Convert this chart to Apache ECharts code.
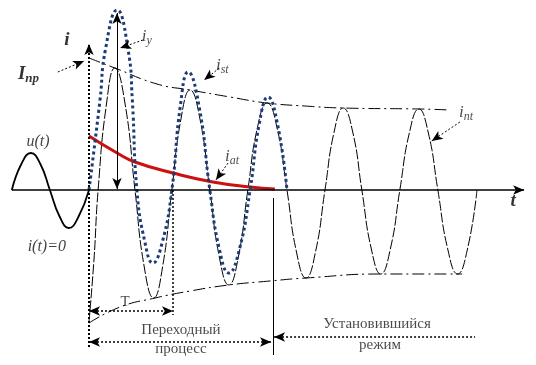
<!DOCTYPE html>
<html>
<head>
<meta charset="utf-8">
<script src="https://cdn.jsdelivr.net/npm/echarts@6/dist/echarts.min.js"></script>
<style>
html,body{margin:0;padding:0;background:#fff;}
#c{width:536px;height:365px;}
</style>
</head>
<body>
<div id="c"></div>
<script>
// time t in ms (50 Hz, T = 20 ms), current i in kA (schematic values)
const voltage = [[-20.3,0],[-17.8,2.6],[-15.3,3.7],[-12.8,2.6],[-10.3,0],[-7.8,-2.6],[-5.3,-3.8],[-2.8,-2.7],[0,0]];
const periodic = [
  [0,-13.2],[1.3,-7.0],[2.4,0],[4.6,8.6],[6.8,12.2],[9.5,8.6],[12.1,0],
  [14.5,-7.6],[17.0,-10.8],[19.4,-7.6],[21.8,0],
  [24.2,7.1],[26.6,10.0],[29.2,7.1],[31.8,0],
  [34.3,-6.7],[36.8,-9.5],[39.3,-6.7],[41.8,0],
  [44.3,6.2],[46.9,8.7],[49.5,6.2],[52.1,0],
  [54.6,-6.2],[57.1,-8.8],[59.6,-6.2],[62.1,0],
  [64.5,5.8],[66.9,8.2],[69.4,5.8],[71.8,0],
  [74.3,-5.9],[76.8,-8.4],[79.3,-5.9],[81.8,0],
  [84.3,5.7],[86.8,8.1],[89.3,5.7],[91.8,0],
  [94.4,-5.9],[97.0,-8.4],[99.6,-5.9],[102.1,0]
];
const total = [
  [0,0],[2.9,9.0],[4.3,14.0],[7.4,18.0],[10.3,14.0],[11.4,9.0],[12.6,0],
  [14.7,-5.2],[16.8,-7.3],[19.3,-5.2],[21.8,0],
  [24.0,8.3],[26.1,11.8],[29.0,8.3],[31.8,0],
  [34.3,-5.9],[36.8,-8.3],[39.6,-5.9],[42.4,0],
  [44.8,6.6],[47.1,9.3],[49.6,6.6],[52.1,0]
];
const aperiodic = [[0,5.4],[7.4,3.7],[12.1,2.8],[22.1,1.7],[32.6,0.8],[42.4,0.3],[48.9,0.1]];
const envUpper = [[0,13.2],[6.8,12.2],[17.9,10.6],[26.6,10.0],[37.1,9.3],[46.8,8.7],[56.8,8.4],[66.8,8.2],[86.8,8.1],[95.0,8.0]];
const envLower = [[0,-13.3],[8.2,-11.7],[17.4,-10.8],[26.6,-10.1],[36.8,-9.5],[47.6,-9.1],[57.1,-8.8],[76.8,-8.4],[98.2,-8.4]];

// annotation geometry (data coordinates): [from, to, startSymbol, endSymbol, style]
const arrows = [
  [[-20.3,0],[114.5,0],'none','arrow','axis'],
  [[0,-15.7],[0,14.6],'none','arrow','dotAxis'],
  [[7.37,17.7],[7.37,0.1],'arrow','arrow','thin'],
  [[14.2,15.0],[8.2,14.2],'none','arrow','leader'],
  [[-8.2,11.8],[-1.3,12.9],'none','arrow','leader'],
  [[34.3,12.2],[30.3,11.0],'none','arrow','leader'],
  [[36.6,2.7],[33.4,1.0],'none','arrow','leader'],
  [[97.6,6.8],[90.2,4.9],'none','arrow','leader'],
  [[0,-12.1],[22.1,-12.1],'arrow','arrow','dot'],
  [[22.1,0],[22.1,-12.5],'none','none','dot'],
  [[0,-15.2],[47.9,-15.2],'arrow','arrow','dot'],
  [[48.4,-0.8],[48.4,-16.5],'none','none','thin'],
  [[48.7,-14.7],[101.6,-14.7],'arrow','none','dot']
];
const labelTexts = [
  ['{b|i}', [-5.8,15.0], 'center'],
  ['{b|t}', [111.6,-1.1], 'center'],
  ['{B|I}{bs|пр}', [-18.7,11.6], 'left'],
  ['{i|i}{s|у}', [13.9,15.3], 'left'],
  ['{i|i}{s|st}', [33.4,12.4], 'left'],
  ['{i|i}{s|аt}', [35.8,3.3], 'left'],
  ['{i|i}{s|пt}', [97.4,7.7], 'left'],
  ['{m|u(t)}', [-13.4,4.8], 'center'],
  ['{m|i(t)=0}', [-11.1,-5.7], 'center'],
  ['{r|T}', [9.5,-11.2], 'center'],
  ['{r|Переходный}', [24.2,-14.0], 'center'],
  ['{r|процесс}', [24.2,-15.9], 'center'],
  ['{r|Установившийся}', [75.8,-13.4], 'center'],
  ['{r|режим}', [76.6,-15.5], 'center']
];

const serif = '"Liberation Serif", "DejaVu Serif", serif';
const styles = {
  axis: {color:'#000', width:1.5, type:'solid'},
  dotAxis: {color:'#000', width:2, type:[2,2]},
  thin: {color:'#000', width:1, type:'solid'},
  leader: {color:'#000', width:1, type:[2,2]},
  dot: {color:'#000', width:1.5, type:[2,2]}
};

const chart = echarts.init(document.getElementById('c'), null, {renderer:'canvas'});
const rich = {
  b: {fontFamily:serif, fontSize:19, fontStyle:'italic', fontWeight:'bold', color:'#000'},
  B: {fontFamily:serif, fontSize:19, fontStyle:'italic', fontWeight:'bold', color:'#000', lineHeight:22},
  bs: {fontFamily:serif, fontSize:13, fontStyle:'italic', fontWeight:'bold', color:'#000', lineHeight:8, verticalAlign:'bottom'},
  i: {fontFamily:serif, fontSize:17, fontStyle:'italic', color:'#222', lineHeight:20},
  s: {fontFamily:serif, fontSize:12, fontStyle:'italic', color:'#222', lineHeight:8, verticalAlign:'bottom'},
  m: {fontFamily:serif, fontSize:16, fontStyle:'italic', color:'#111'},
  r: {fontFamily:serif, fontSize:15, color:'#1a1a1a'}
};

const lineBase = {type:'line', smooth:true, showSymbol:false, symbol:'none', silent:true, animation:false, clip:false};
chart.setOption({
  animation:false,
  backgroundColor:'#fff',
  grid:{left:0,right:0,top:0,bottom:0},
  xAxis:{type:'value', min:-23.42, max:117.63, show:false},
  yAxis:{type:'value', min:-17.5, max:19.0, show:false},
  series:[
    Object.assign({}, lineBase, {name:'u(t)', data:voltage, lineStyle:{color:'#000', width:1.8}}),
    Object.assign({}, lineBase, {name:'envUpper', data:envUpper, lineStyle:{color:'#000', width:1, type:[12,4,2,4]}}),
    Object.assign({}, lineBase, {name:'envLower', data:envLower, lineStyle:{color:'#000', width:1, type:[12,4,2,4]}}),
    Object.assign({}, lineBase, {name:'i_пt', data:periodic, lineStyle:{color:'#000', width:1, type:[10,2]}}),
    Object.assign({}, lineBase, {name:'i_аt', data:aperiodic, lineStyle:{color:'#cc1111', width:3}}),
    Object.assign({}, lineBase, {name:'i', data:total, lineStyle:{color:'#1d3b78', width:3, type:[3,3]}}),
    {
      type:'line', data:[], silent:true, animation:false,
      markLine:{
        silent:true, animation:false, label:{show:false}, symbolSize:[7,11], precision:3,
        data: arrows.map(a => [
          {coord:a[0], symbol:a[2], symbolSize:[7,11], lineStyle:styles[a[4]]},
          {coord:a[1], symbol:a[3], symbolSize:[7,11]}
        ])
      }
    },
    {
      type:'scatter', silent:true, animation:false, symbolSize:0,
      data: labelTexts.map(l => ({
        value:l[1],
        label:{show:true, position:'inside', align:l[2], verticalAlign:'middle', formatter:l[0], rich:rich}
      }))
    }
  ]
});
</script>
</body>
</html>
